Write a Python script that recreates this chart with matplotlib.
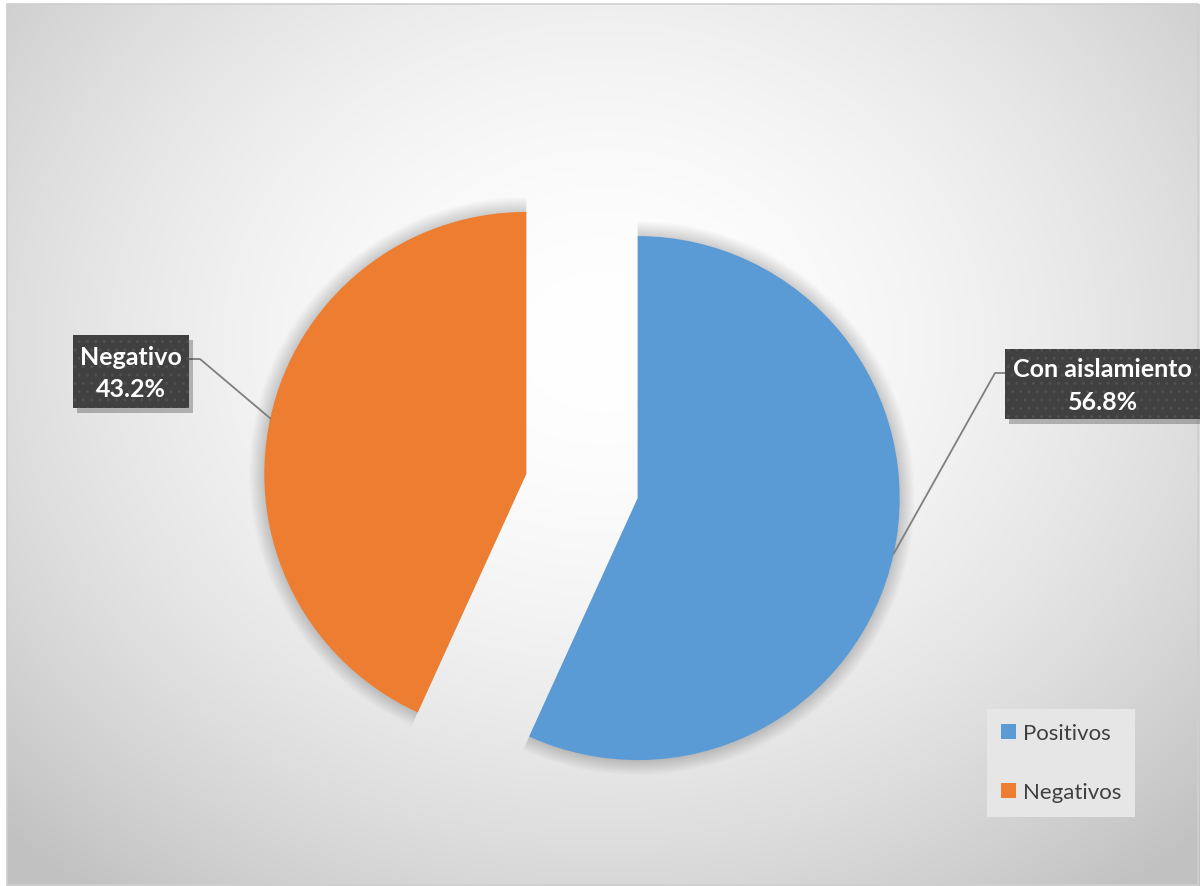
import numpy as np
import matplotlib.pyplot as plt
from matplotlib.patches import Rectangle, Wedge

W, H = 1200, 887

categories = ["Positivos", "Negativos"]
shares = [56.8, 43.2]
point_labels = ["Con aislamiento", "Negativo"]
colors = ["#5B9BD5", "#ED7D31"]

plt.rcParams["font.family"] = ["Lato", "DejaVu Sans"]

fig = plt.figure(figsize=(12, 8.87), dpi=100)
ax = fig.add_axes([0, 0, 1, 1])


def py(y):
    # pixel row from top -> data y
    return H - y


# radial grey background
yy, xx = np.mgrid[0:H, 0:W]
d = np.sqrt(((xx - 600) / 620) ** 2 + ((yy - py(340)) / 520) ** 2)
g = 1 - 0.24 * (np.clip(d, 0, 1.35) / 1.35) ** 1.8
ax.imshow(np.dstack([g, g, g]), extent=(7, W, 0, py(5)), origin="lower",
          zorder=0, aspect="auto")
ax.add_patch(Rectangle((7, 1), W - 9, py(5) - 1, fill=False,
                       edgecolor="#cfcfcf", linewidth=1.2, zorder=1))

wedges, _ = ax.pie(
    shares,
    colors=colors,
    startangle=90,
    counterclock=False,
    radius=262,
    center=(582, py(487)),
    explode=[57, 57],
    wedgeprops=dict(linewidth=0, zorder=3),
    frame=True,
)

# soft glow around slices
for w in wedges:
    for k in range(1, 16):
        ax.add_patch(Wedge(w.center, w.r + k, w.theta1, w.theta2,
                           facecolor="black", alpha=0.010, linewidth=0,
                           zorder=2))

# data labels with leader lines
label_boxes = [
    dict(x0=1005, x1=1200, y0=350, y1=420, elbow=(995, 374), side=1005),
    dict(x0=73, x1=189, y0=336, y1=409, elbow=(200, 360), side=189),
]
for w, name, val, b in zip(wedges, point_labels, shares, label_boxes):
    m = np.deg2rad((w.theta1 + w.theta2) / 2)
    ax_pt = (w.center[0] + w.r * np.cos(m), w.center[1] + w.r * np.sin(m))
    ex, ey = b["elbow"]
    ax.plot([ax_pt[0], ex, b["side"]], [ax_pt[1], py(ey), py(ey)],
            color="#7f7f7f", linewidth=1.3, zorder=4)
    bw, bh = b["x1"] - b["x0"], b["y1"] - b["y0"]
    ax.add_patch(Rectangle((b["x0"] + 4, py(b["y1"]) - 5), bw, bh,
                           facecolor="#000000", alpha=0.25, linewidth=0,
                           zorder=5))
    ax.add_patch(Rectangle((b["x0"], py(b["y1"])), bw, bh,
                           facecolor="#404040", edgecolor="#505050",
                           hatch="..", linewidth=0, zorder=6))
    ax.text((b["x0"] + b["x1"]) / 2, py((b["y0"] + b["y1"]) / 2 + 1),
            f"{name}\n{val:.1f}%", ha="center", va="center", color="white",
            fontsize=18, fontweight="bold", linespacing=1.5, zorder=7)

leg = ax.legend(
    wedges, categories,
    loc="upper left",
    bbox_to_anchor=(987 / W, 1 - 710 / H),
    bbox_transform=fig.transFigure,
    frameon=True, fancybox=False,
    facecolor="#e6e6e6", edgecolor="none", framealpha=1,
    fontsize=16, labelcolor="#404040",
    handlelength=0.65, handleheight=0.65, handletextpad=0.3,
    labelspacing=1.75, borderpad=0.65, borderaxespad=0,
)

ax.set_xlim(0, W)
ax.set_ylim(0, H)
ax.set_aspect("auto")
ax.axis("off")

fig.savefig("out.png", dpi=100, facecolor="white")
